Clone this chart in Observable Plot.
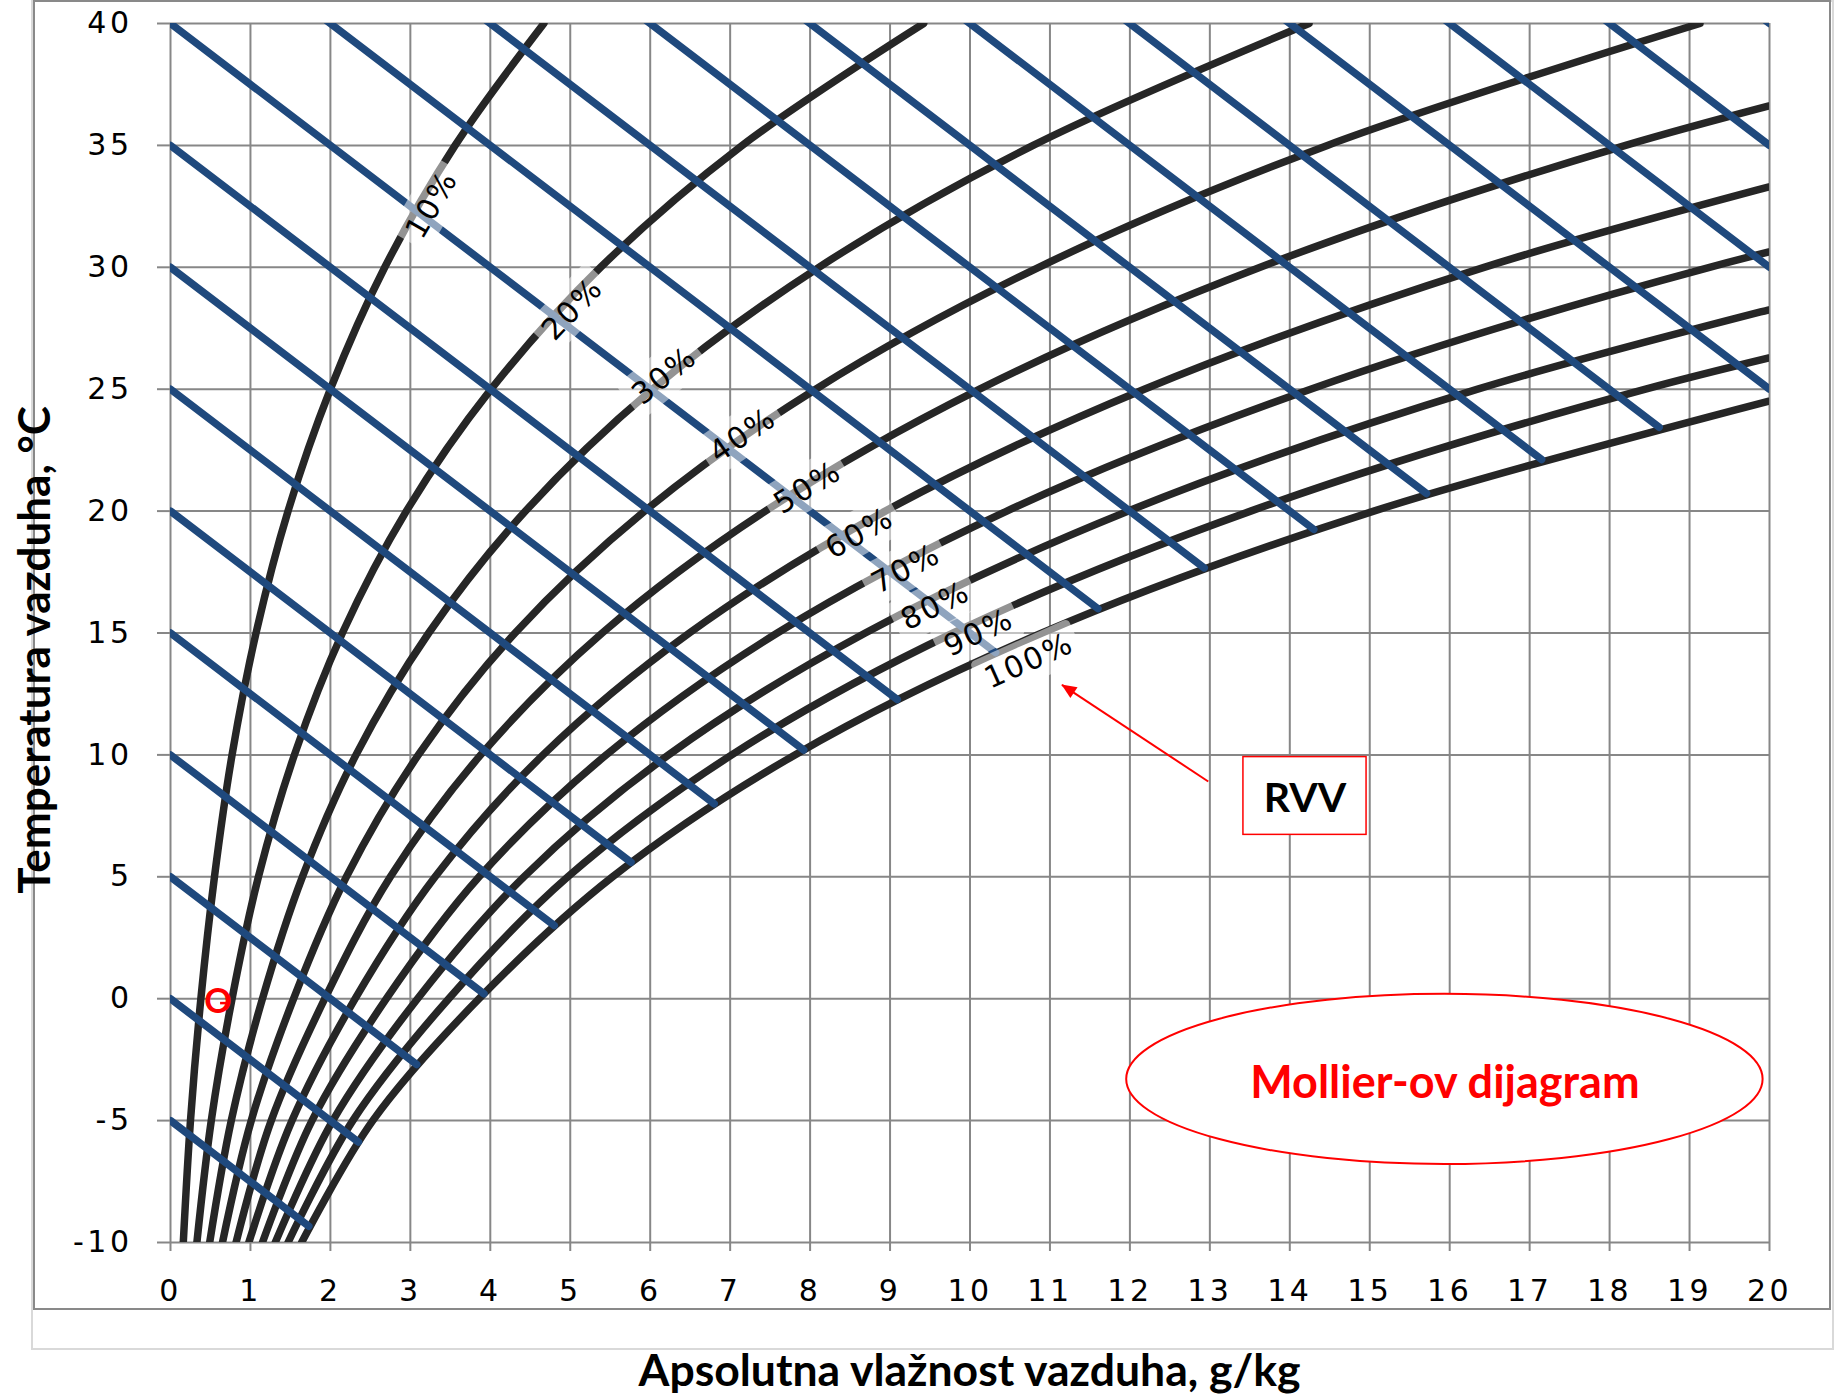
<!DOCTYPE html>
<html>
<head>
<meta charset="utf-8">
<script src="https://cdn.jsdelivr.net/npm/d3@7"></script>
<script src="https://cdn.jsdelivr.net/npm/@observablehq/plot@0.6"></script>
<style>
html, body { margin: 0; padding: 0; background: #fff; }
#wrap { position: relative; width: 1835px; height: 1394px; overflow: hidden; background: #fff; }
#chart { position: absolute; left: 0; top: 0; }
#outer { position: absolute; left: 31px; top: 0; width: 1803px; height: 1350px; border: 2px solid #d9d9d9; box-sizing: border-box; pointer-events: none; }
#inner { position: absolute; left: 33px; top: 0; width: 1798px; height: 1310px; border: 2px solid #898989; box-sizing: border-box; pointer-events: none; }
#xtitle { position: absolute; left: 170px; width: 1599px; top: 1344px; height: 50px; line-height: 50px; text-align: center; font-family: Lato, sans-serif; font-weight: bold; font-size: 44.5px; color: #000; }
#ytitle { position: absolute; left: -267px; width: 600px; top: 625px; height: 50px; line-height: 50px; text-align: center; font-family: Lato, sans-serif; font-weight: bold; font-size: 44px; color: #000; transform: rotate(-90deg); transform-origin: 50% 50%; }
[aria-label^="x-axis"] line, [aria-label^="y-axis"] line,
[aria-label="x-axis tick"] path, [aria-label="y-axis tick"] path { stroke: #878787; stroke-width: 2px; }
g[font-family="Lato"] { letter-spacing: 0; }
</style>
</head>
<body>
<div id="wrap">
  <div id="chart"></div>
  <div id="outer"></div>
  <div id="inner"></div>
  <div id="xtitle">Apsolutna vlažnost vazduha, g/kg</div>
  <div id="ytitle">Temperatura vazduha, °C</div>
</div>
<script>
// ---- axes ----
const xTicks = [0,1,2,3,4,5,6,7,8,9,10,11,12,13,14,15,16,17,18,19,20];
const yTicks = [-10,-5,0,5,10,15,20,25,30,35,40];

// ---- relative humidity curves: absolute humidity (g/kg) at each temperature ----
const temps = [-10,-5,0,5,10,15,20,25,30,35,40];
const rhLevels = [10,20,30,40,50,60,70,80,90,100];
const rh10  = [0.16,0.25,0.38,0.55,0.77,1.07,1.47,2.00,2.68,3.56,4.67];
const rh20  = [0.33,0.51,0.77,1.10,1.55,2.15,2.95,4.01,5.38,7.15,9.42];
const rh30  = [0.49,0.76,1.15,1.65,2.32,3.23,4.44,6.03,8.11,10.79,14.24];
const rh40  = [0.65,1.01,1.54,2.20,3.10,4.31,5.93,8.07,10.86,14.47,19.13];
const rh50  = [0.82,1.26,1.93,2.75,3.88,5.40,7.44,10.12,13.63,18.20,24.09];
const rh60  = [0.98,1.52,2.31,3.31,4.66,6.49,8.94,12.18,16.43,21.97];
const rh70  = [1.15,1.77,2.70,3.86,5.45,7.59,10.46,14.26,19.25,25.78];
const rh80  = [1.31,2.03,3.09,4.42,6.23,8.69,11.98,16.35,22.10];
const rh90  = [1.47,2.28,3.48,4.97,7.02,9.79,13.51,18.45,24.97];
const rh100 = [1.64,2.53,3.86,5.53,7.81,10.90,15.05,20.57];
const rhCurves = [rh10,rh20,rh30,rh40,rh50,rh60,rh70,rh80,rh90,rh100];

// ---- enthalpy lines: start temperature at x = 0, end point on saturation / right edge ----
const enthT0   = [-5,0,5,10,15,20,25,30,35,40,45,50,55,60,65,70,75,80,85,90];
const enthEndX = [1.73,2.35,3.08,3.92,4.80,5.76,6.80,7.92,9.09,10.32,11.60,12.93,14.30,15.71,17.15,18.62,20,20,20,20];
const enthEndT = [-9.33,-5.88,-2.70,0.20,3.00,5.60,8.00,10.20,12.27,14.20,16.00,17.67,19.25,20.72,22.12,23.44,25,30,35,40];

// ---- curve labels ----
const lblText = ["10%","20%","30%","40%","50%","60%","70%","80%","90%","100%"];
const lblX = [3.27,5.03,6.18,7.16,7.97,8.62,9.20,9.57,10.11,10.74];
const lblT = [32.57,28.29,25.55,23.11,20.96,19.09,17.63,16.11,15.01,13.85];

// ---- annotations (data units) ----
const rvvBox = {x1: 13.42, x2: 14.96, y1: 6.72, y2: 9.91};
const arrowFrom = {x: 12.98, t: 8.91};
const arrowTo = {x: 11.15, t: 12.87};
const noteText = ["RVV", "Mollier-ov dijagram"];
const noteX = [14.19, 15.94];
const noteT = [8.18, -3.50];
const noteColor = ["#000000", "#FF0000"];
const noteSize = [41, 45];
const pointLabel = {x: 0.594, t: -0.12, s: "O"};
const dash = {x1: 0.62, x2: 0.74, t: -0.18};
const ellipse = {cx: 15.94, ct: -3.31, rx: 3.98, rt: 3.49};

// ---- build tables ----
const rows = [];
rhCurves.forEach((arr, i) => arr.forEach((x, j) => rows.push({rh: rhLevels[i], t: temps[j], x})));
const blue = enthT0.map((t0, i) => ({t0, x2: enthEndX[i], t2: enthEndT[i]}));
const notes = noteText.map((s, i) => ({s, x: noteX[i], t: noteT[i], c: noteColor[i], size: noteSize[i]}));

const W = 1835, H = 1310, ML = 170, MR = 66, MT = 23, MB = 68;
const kx = (W - ML - MR) / 20, ky = (H - MT - MB) / 50;
function slopeAt(arr, t) {
  const d = j => {
    const a = Math.max(0, j - 1), b = Math.min(arr.length - 1, j + 1);
    return (arr[b] - arr[a]) / (temps[b] - temps[a]);
  };
  let j = 0;
  while (j < temps.length - 2 && temps[j + 1] <= t) j++;
  const f = (t - temps[j]) / 5;
  return d(j) * (1 - f) + d(Math.min(j + 1, arr.length - 1)) * f;
}
const labels = lblText.map((s, i) => {
  const dxdT = slopeAt(rhCurves[i], lblT[i]);
  const a = Math.atan2(-ky, dxdT * kx) * 180 / Math.PI;
  return {s, x: lblX[i], t: lblT[i], a};
});

const plot = Plot.plot({
  width: W, height: H,
  marginLeft: ML, marginRight: MR, marginTop: MT, marginBottom: MB,
  style: "font-family: 'DejaVu Sans'; font-size: 30px; letter-spacing: 3.5px; background: transparent; color: black; overflow: visible;",
  x: {domain: [0, 20], ticks: xTicks, tickSize: 9, tickPadding: 28, tickFormat: d => String(d), label: null},
  y: {domain: [-10, 40], ticks: yTicks, tickSize: 13, tickPadding: 25, tickFormat: d => String(d), label: null},
  marks: [
    Plot.ruleX(xTicks, {x: d => d, stroke: "#878787", strokeWidth: 2}),
    Plot.ruleY(yTicks, {y: d => d, stroke: "#878787", strokeWidth: 2}),
    Plot.line(rows, {x: "x", y: "t", z: "rh", curve: "catmull-rom", stroke: "#262626", strokeWidth: 7.5, clip: true}),
    Plot.link(blue, {x1: () => 0, y1: "t0", x2: "x2", y2: "t2", stroke: "#1F497D", strokeWidth: 7.5, strokeLinecap: "round", clip: true}),
    Plot.text(labels, {x: "x", y: "t", text: "s", rotate: "a", fontSize: 30, fontFamily: "DejaVu Sans", fill: "black", ariaDescription: "rh-labels"}),
    Plot.rect([rvvBox], {x1: "x1", x2: "x2", y1: "y1", y2: "y2", fill: "white", stroke: "#FF0000", strokeWidth: 1.5}),
    Plot.link([{a: arrowFrom, b: arrowTo}], {x1: d => d.a.x, y1: d => d.a.t, x2: d => d.b.x, y2: d => d.b.t, stroke: "#FF0000", strokeWidth: 2}),
    Plot.text(notes, {x: "x", y: "t", text: "s", fill: "c", fontSize: d => d.size, fontFamily: "Lato", fontWeight: "bold", ariaDescription: "notes"}),
    Plot.link([dash], {x1: "x1", x2: "x2", y1: "t", y2: "t", stroke: "#FF0000", strokeWidth: 2.5}),
    Plot.text([pointLabel], {x: "x", y: "t", text: "s", fill: "#FF0000", fontSize: 34, fontFamily: "Lato", fontWeight: "bold"})
  ]
});
document.getElementById("chart").appendChild(plot);

const sx = plot.scale("x"), sy = plot.scale("y");
const X = v => sx.apply(v), Y = v => sy.apply(v);
const NS = "http://www.w3.org/2000/svg";
const textGs = plot.querySelectorAll('g[aria-label="text"]');
const lblG = plot.querySelector('g[aria-description="rh-labels"]') || textGs[0];
const notesG = plot.querySelector('g[aria-description="notes"]') || textGs[1];

// translucent boxes behind curve labels
if (lblG) {
  lblG.style.letterSpacing = "2px";
  const boxG = document.createElementNS(NS, "g");
  const texts = lblG.querySelectorAll("text");
  texts.forEach((node, i) => {
    const L = labels[i];
    let w = 80;
    try { w = node.getComputedTextLength(); } catch (e) {}
    const bw = w + 14, bh = 44;
    const r = document.createElementNS(NS, "rect");
    r.setAttribute("x", -bw / 2); r.setAttribute("y", -bh / 2);
    r.setAttribute("width", bw); r.setAttribute("height", bh);
    r.setAttribute("rx", 5);
    r.setAttribute("fill", "white"); r.setAttribute("fill-opacity", 0.5);
    r.setAttribute("transform", `translate(${X(L.x) - 1},${Y(L.t)}) rotate(${L.a})`);
    boxG.appendChild(r);
  });
  lblG.parentNode.insertBefore(boxG, lblG);
}

// ellipse around the title annotation
{
  const cx = X(ellipse.cx), cy = Y(ellipse.ct);
  const rx = X(ellipse.cx + ellipse.rx) - cx, ry = cy - Y(ellipse.ct + ellipse.rt);
  const e = document.createElementNS(NS, "ellipse");
  e.setAttribute("cx", cx); e.setAttribute("cy", cy);
  e.setAttribute("rx", rx); e.setAttribute("ry", ry);
  e.setAttribute("fill", "white"); e.setAttribute("stroke", "#FF0000"); e.setAttribute("stroke-width", 2);
  if (notesG) notesG.parentNode.insertBefore(e, notesG); else plot.insertBefore(e, plot.firstChild);
}

// filled arrow head
{
  const x0 = X(arrowFrom.x), y0 = Y(arrowFrom.t), x1 = X(arrowTo.x), y1 = Y(arrowTo.t);
  const ang = Math.atan2(y1 - y0, x1 - x0);
  const len = 15, hw = 6.5;
  const bx = x1 - len * Math.cos(ang), by = y1 - len * Math.sin(ang);
  const px = -Math.sin(ang) * hw, py = Math.cos(ang) * hw;
  const p = document.createElementNS(NS, "polygon");
  p.setAttribute("points", `${x1},${y1} ${bx + px},${by + py} ${bx - px},${by - py}`);
  p.setAttribute("fill", "#FF0000");
  plot.appendChild(p);
}
</script>
</body>
</html>
